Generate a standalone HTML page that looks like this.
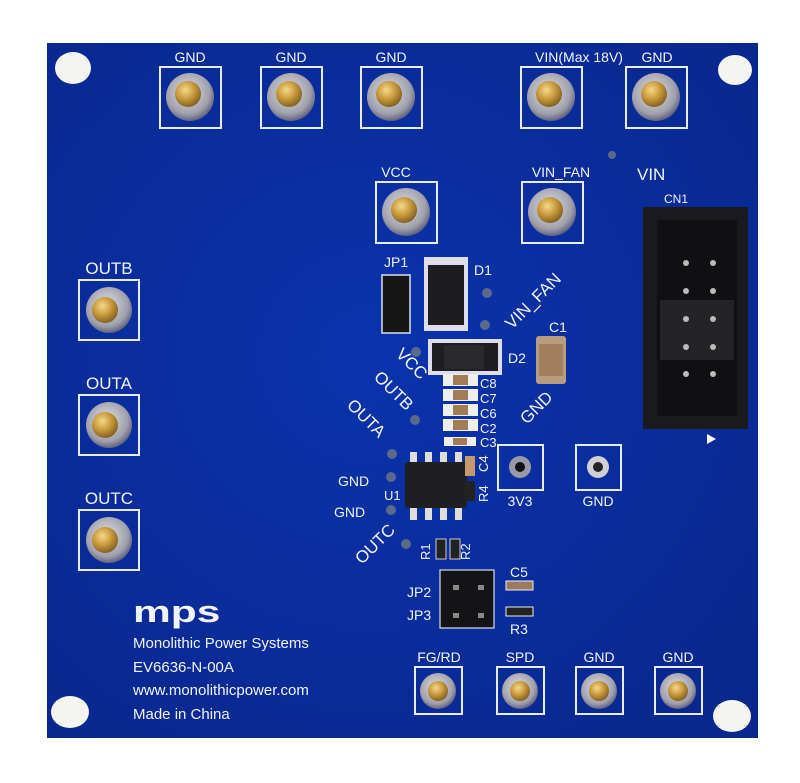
<!DOCTYPE html>
<html><head><meta charset="utf-8"><style>
html,body{margin:0;padding:0;background:#fff;}
svg{display:block;}
text{font-family:"Liberation Sans",sans-serif;fill:#f2f4ff;}
</style></head><body>
<svg width="800" height="783" viewBox="0 0 800 783" xmlns="http://www.w3.org/2000/svg">
<defs>
<radialGradient id="gold" cx="40%" cy="35%" r="70%"><stop offset="0" stop-color="#f4d98a"/><stop offset="0.5" stop-color="#c99a3c"/><stop offset="1" stop-color="#7a5a20"/></radialGradient>
<radialGradient id="silver" cx="45%" cy="40%" r="65%"><stop offset="0" stop-color="#e0e0e6"/><stop offset="0.7" stop-color="#a0a0ac"/><stop offset="1" stop-color="#4a4e70"/></radialGradient>
<radialGradient id="board" cx="45%" cy="45%" r="75%"><stop offset="0" stop-color="#0a33ac"/><stop offset="1" stop-color="#09278c"/></radialGradient>
</defs>
<rect x="47" y="43" width="711" height="695" fill="url(#board)"/>
<ellipse cx="73" cy="68" rx="18" ry="16" fill="#f4f4f0"/>
<ellipse cx="735" cy="70" rx="17" ry="15" fill="#f4f4f0"/>
<ellipse cx="70" cy="712" rx="19" ry="16" fill="#f4f4f0"/>
<ellipse cx="732" cy="716" rx="19" ry="16" fill="#f4f4f0"/>

<g stroke="#e8ecff" stroke-width="2" fill="none">
<rect x="160" y="67" width="61" height="61"/><rect x="261" y="67" width="61" height="61"/><rect x="361" y="67" width="61" height="61"/>
<rect x="521" y="67" width="61" height="61"/><rect x="626" y="67" width="61" height="61"/>
<rect x="376" y="182" width="61" height="61"/><rect x="522" y="182" width="61" height="61"/>
<rect x="79" y="280" width="60" height="60"/><rect x="79" y="395" width="60" height="60"/><rect x="79" y="510" width="60" height="60"/>
<rect x="415" y="667" width="47" height="47"/><rect x="497" y="667" width="47" height="47"/><rect x="576" y="667" width="47" height="47"/><rect x="655" y="667" width="47" height="47"/>
<rect x="498" y="445" width="45" height="45"/><rect x="576" y="445" width="45" height="45"/>
</g>
<g>
<circle cx="190" cy="97" r="24" fill="url(#silver)"/><circle cx="188" cy="94" r="13" fill="url(#gold)"/>
<circle cx="291" cy="97" r="24" fill="url(#silver)"/><circle cx="289" cy="94" r="13" fill="url(#gold)"/>
<circle cx="391" cy="97" r="24" fill="url(#silver)"/><circle cx="389" cy="94" r="13" fill="url(#gold)"/>
<circle cx="551" cy="97" r="24" fill="url(#silver)"/><circle cx="549" cy="94" r="13" fill="url(#gold)"/>
<circle cx="656" cy="97" r="24" fill="url(#silver)"/><circle cx="654" cy="94" r="13" fill="url(#gold)"/>
<circle cx="406" cy="212" r="24" fill="url(#silver)"/><circle cx="404" cy="210" r="13" fill="url(#gold)"/>
<circle cx="552" cy="212" r="24" fill="url(#silver)"/><circle cx="550" cy="210" r="13" fill="url(#gold)"/>
<circle cx="109" cy="310" r="23" fill="url(#silver)"/><circle cx="105" cy="310" r="13" fill="url(#gold)"/>
<circle cx="109" cy="425" r="23" fill="url(#silver)"/><circle cx="105" cy="425" r="13" fill="url(#gold)"/>
<circle cx="109" cy="540" r="23" fill="url(#silver)"/><circle cx="105" cy="540" r="13" fill="url(#gold)"/>
<circle cx="438" cy="691" r="18" fill="url(#silver)"/><circle cx="438" cy="691" r="10" fill="url(#gold)"/>
<circle cx="520" cy="691" r="18" fill="url(#silver)"/><circle cx="520" cy="691" r="10" fill="url(#gold)"/>
<circle cx="599" cy="691" r="18" fill="url(#silver)"/><circle cx="599" cy="691" r="10" fill="url(#gold)"/>
<circle cx="678" cy="691" r="18" fill="url(#silver)"/><circle cx="678" cy="691" r="10" fill="url(#gold)"/>
<circle cx="520" cy="467" r="11" fill="#9a9aa6"/><circle cx="520" cy="467" r="5" fill="#111"/>
<circle cx="598" cy="467" r="11" fill="#cfcfd6"/><circle cx="598" cy="467" r="5" fill="#222"/>
</g>
<g font-size="14">
<text x="190" y="62" text-anchor="middle">GND</text><text x="291" y="62" text-anchor="middle">GND</text><text x="391" y="62" text-anchor="middle">GND</text>
<text x="579" y="62" text-anchor="middle" font-family="Liberation Mono">VIN(Max 18V)</text><text x="657" y="62" text-anchor="middle">GND</text>
<text x="396" y="177" text-anchor="middle">VCC</text><text x="561" y="177" text-anchor="middle">VIN_FAN</text>
<text x="637" y="180" font-size="17">VIN</text><text x="664" y="203" font-size="12">CN1</text>
<text x="109" y="274" text-anchor="middle" font-size="17">OUTB</text><text x="109" y="389" text-anchor="middle" font-size="17">OUTA</text><text x="109" y="504" text-anchor="middle" font-size="17">OUTC</text>
<text x="439" y="662" text-anchor="middle">FG/RD</text><text x="520" y="662" text-anchor="middle">SPD</text><text x="599" y="662" text-anchor="middle">GND</text><text x="678" y="662" text-anchor="middle">GND</text>
<text x="520" y="506" text-anchor="middle">3V3</text><text x="598" y="506" text-anchor="middle">GND</text>
<text x="384" y="267">JP1</text><text x="474" y="275">D1</text><text x="508" y="363">D2</text><text x="549" y="332">C1</text>
<text x="480" y="388" font-size="13">C8</text><text x="480" y="403" font-size="13">C7</text><text x="480" y="418" font-size="13">C6</text><text x="480" y="433" font-size="13">C2</text><text x="480" y="447" font-size="13">C3</text>
<text x="338" y="486">GND</text><text x="334" y="517">GND</text><text x="384" y="500" font-size="13">U1</text>
<text x="407" y="597">JP2</text><text x="407" y="620">JP3</text><text x="510" y="577">C5</text><text x="510" y="634">R3</text>
<text transform="translate(488,472) rotate(-90)" font-size="13">C4</text><text transform="translate(488,502) rotate(-90)" font-size="13">R4</text>
<text transform="translate(430,560) rotate(-90)" font-size="13">R1</text><text transform="translate(470,560) rotate(-90)" font-size="13">R2</text>
<text transform="translate(395,355) rotate(45)" font-size="17">VCC</text>
<text transform="translate(373,378) rotate(45)" font-size="17">OUTB</text>
<text transform="translate(346,406) rotate(45)" font-size="17">OUTA</text>
<text transform="translate(362,565) rotate(-45)" font-size="17">OUTC</text>
<text transform="translate(512,330) rotate(-45)" font-size="17">VIN_FAN</text>
<text transform="translate(527,425) rotate(-45)" font-size="17">GND</text>
</g>
<text x="133" y="622" font-size="34" font-weight="bold" transform="translate(133,622) scale(1.25,0.9) translate(-133,-622)">mps</text>
<g font-size="15"><text x="133" y="648">Monolithic Power Systems</text><text x="133" y="672">EV6636-N-00A</text><text x="133" y="695">www.monolithicpower.com</text><text x="133" y="719">Made in China</text></g>
<rect x="382" y="275" width="28" height="58" fill="#161616" stroke="#dde" stroke-width="1.5"/>
<rect x="424" y="257" width="44" height="74" fill="#dde" /><rect x="428" y="265" width="36" height="60" fill="#1d1d1f"/>
<rect x="428" y="339" width="74" height="36" fill="#dde"/><rect x="432" y="343" width="66" height="28" fill="#1e1e20"/><rect x="444" y="345" width="40" height="24" fill="#2a2a2c"/>
<rect x="536" y="336" width="30" height="48" rx="3" fill="#b89c80"/><rect x="539" y="344" width="24" height="32" fill="#a07e5e"/>
<g fill="#eee"><rect x="443" y="374" width="35" height="12"/><rect x="443" y="389" width="35" height="12"/><rect x="443" y="404" width="35" height="12"/><rect x="443" y="419" width="35" height="12"/><rect x="444" y="437" width="32" height="9"/></g>
<g fill="#a27c55"><rect x="453" y="375" width="15" height="10"/><rect x="453" y="390" width="15" height="10"/><rect x="453" y="405" width="15" height="10"/><rect x="453" y="420" width="15" height="10"/><rect x="453" y="438" width="14" height="7"/></g>
<g fill="#ddd"><rect x="410" y="452" width="7" height="10"/><rect x="425" y="452" width="7" height="10"/><rect x="440" y="452" width="7" height="10"/><rect x="455" y="452" width="7" height="10"/><rect x="410" y="508" width="7" height="12"/><rect x="425" y="508" width="7" height="12"/><rect x="440" y="508" width="7" height="12"/><rect x="455" y="508" width="7" height="12"/></g>
<rect x="405" y="462" width="62" height="46" rx="3" fill="#1f1f22"/>
<rect x="465" y="456" width="10" height="20" fill="#c49a6c"/><rect x="465" y="481" width="10" height="20" fill="#222"/>
<rect x="436" y="539" width="10" height="20" fill="#222" stroke="#ccc"/><rect x="450" y="539" width="10" height="20" fill="#222" stroke="#ccc"/>
<rect x="440" y="570" width="54" height="58" fill="#141416" stroke="#dde" stroke-width="1.2"/>
<g fill="#888"><rect x="453" y="585" width="6" height="5"/><rect x="478" y="585" width="6" height="5"/><rect x="453" y="613" width="6" height="5"/><rect x="478" y="613" width="6" height="5"/></g>
<rect x="506" y="581" width="27" height="9" fill="#9c7a60" stroke="#eee"/><rect x="506" y="607" width="27" height="9" fill="#222" stroke="#eee"/>
<rect x="643" y="207" width="105" height="222" fill="#1a1a1c"/>
<rect x="657" y="220" width="80" height="196" fill="#101012"/>
<rect x="660" y="300" width="74" height="60" fill="#242426"/>
<g fill="#bbb"><circle cx="686" cy="263" r="3"/><circle cx="713" cy="263" r="3"/><circle cx="686" cy="291" r="3"/><circle cx="713" cy="291" r="3"/><circle cx="686" cy="319" r="3"/><circle cx="713" cy="319" r="3"/><circle cx="686" cy="347" r="3"/><circle cx="713" cy="347" r="3"/><circle cx="686" cy="374" r="3"/><circle cx="713" cy="374" r="3"/></g>
<polygon points="707,434 707,444 716,439" fill="#fff"/>
<g fill="#5a6a8a"><circle cx="487" cy="293" r="5"/><circle cx="485" cy="325" r="5"/><circle cx="416" cy="352" r="5"/><circle cx="415" cy="420" r="5"/><circle cx="392" cy="454" r="5"/><circle cx="391" cy="477" r="5"/><circle cx="391" cy="510" r="5"/><circle cx="406" cy="544" r="5"/><circle cx="612" cy="155" r="4"/></g>
</svg>
</body></html>
